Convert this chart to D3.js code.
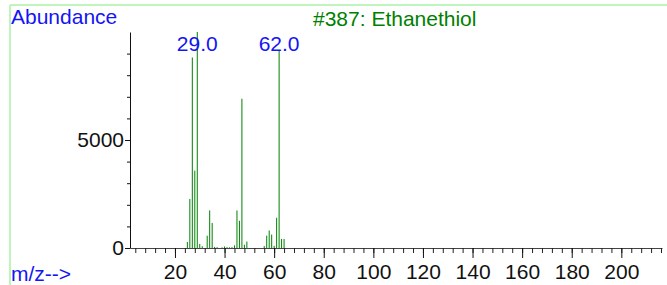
<!DOCTYPE html>
<html><head><meta charset="utf-8">
<title>#387: Ethanethiol</title>
<script src="https://cdn.jsdelivr.net/npm/d3@7"></script>
<style>
body { margin: 0; background: #fff; }
text { font-family: "Liberation Sans", Arial, sans-serif; }
</style>
</head>
<body>
<script>

// spectrum values
var mzValues   = [25, 26, 27, 28, 29, 30, 31, 33, 34, 35, 36, 37, 39, 40, 41, 42, 43, 44, 45, 46, 47, 48, 49, 56, 57, 58, 59, 60, 61, 62, 63, 64];
var abundances = [280, 2270, 8820, 3580, 10000, 190, 80, 570, 1740, 1160, 50, 40, 30, 70, 40, 30, 40, 120, 1740, 1260, 6910, 150, 300, 90, 570, 810, 620, 100, 1400, 9170, 420, 420];
var labeledPeaks = [29, 62];
var xMajorTicks = [20, 40, 60, 80, 100, 120, 140, 160, 180, 200];
var yLabelTicks = [0, 5000];
var yMinorTicks = [1000, 2000, 3000, 4000, 6000, 7000, 8000, 9000];
var titleText = "#387: Ethanethiol";

var width = 667;
var height = 285;
var svg = d3.select("body").append("svg").attr("width", width).attr("height", height);

// light green frame
svg.append("line").attr("x1", 10).attr("x2", width).attr("y1", 5).attr("y2", 5)
	.attr("stroke", "#bdf5bd").attr("stroke-width", 2);
svg.append("line").attr("x1", 10).attr("x2", 10).attr("y1", 5).attr("y2", height)
	.attr("stroke", "#bdf5bd").attr("stroke-width", 2);

var x = d3.scaleLinear().domain([1.87, 216.4]).range([130, 662]);
var y = d3.scaleLinear().domain([0, 10000]).range([248, 32]);

// x axis: minor ticks every 4, major every 20
svg.append("g").attr("transform", "translate(0,248)")
	.call(d3.axisBottom(x).tickValues(d3.range(4, 217, 4)).tickSize(5).tickSizeOuter(0).tickFormat(""))
	.call(function(g) { g.select(".domain").attr("stroke", "#444"); g.selectAll(".tick line").attr("stroke", "#222"); });

svg.append("g").attr("transform", "translate(0,248)")
	.call(d3.axisBottom(x).tickValues(xMajorTicks).tickSize(10).tickPadding(6).tickFormat(d3.format("d")))
	.call(function(g) {
		g.select(".domain").remove();
		g.selectAll(".tick line").attr("stroke", "#111");
		g.selectAll("text").attr("font-size", "21px").attr("font-family", "'Liberation Sans', Arial, sans-serif").attr("fill", "#111");
	});

// y axis
svg.append("g").attr("transform", "translate(130,0)")
	.call(d3.axisLeft(y).tickValues(yMinorTicks).tickSize(3).tickSizeOuter(0).tickFormat(""))
	.call(function(g) { g.select(".domain").attr("stroke", "#111"); g.selectAll(".tick line").attr("stroke", "#111"); });

svg.append("g").attr("transform", "translate(130,0)")
	.call(d3.axisLeft(y).tickValues(yLabelTicks).tickSize(5).tickPadding(1).tickFormat(d3.format("d")))
	.call(function(g) {
		g.select(".domain").remove();
		g.selectAll(".tick line").attr("stroke", "#111");
		g.selectAll("text").attr("font-size", "21px").attr("font-family", "'Liberation Sans', Arial, sans-serif").attr("fill", "#111");
	});

// the spectrum lines
var peaks = mzValues.map(function(m, i) { return {mz: m, ab: abundances[i]}; });
svg.append("g").selectAll("line").data(peaks).enter().append("line")
	.attr("x1", function(d) { return x(d.mz); })
	.attr("x2", function(d) { return x(d.mz); })
	.attr("y1", y(0))
	.attr("y2", function(d) { return y(d.ab); })
	.attr("stroke", "#008000")
	.attr("stroke-width", 1);

// peak labels
svg.append("g").selectAll("text").data(labeledPeaks).enter().append("text")
	.attr("x", function(d) { return x(d); })
	.attr("y", 51)
	.attr("text-anchor", "middle")
	.attr("font-size", "21px")
	.attr("fill", "#1414f5")
	.text(function(d) { return d.toFixed(1); });

svg.append("text").attr("x", 11).attr("y", 24).attr("font-size", "21px").attr("fill", "#1414f5").text("Abundance");
svg.append("text").attr("x", 11).attr("y", 281).attr("font-size", "21px").attr("fill", "#1414f5").text("m/z-->");
svg.append("text").attr("x", 313).attr("y", 26).attr("font-size", "21px").attr("fill", "#008000").text(titleText);

</script>
</body></html>
